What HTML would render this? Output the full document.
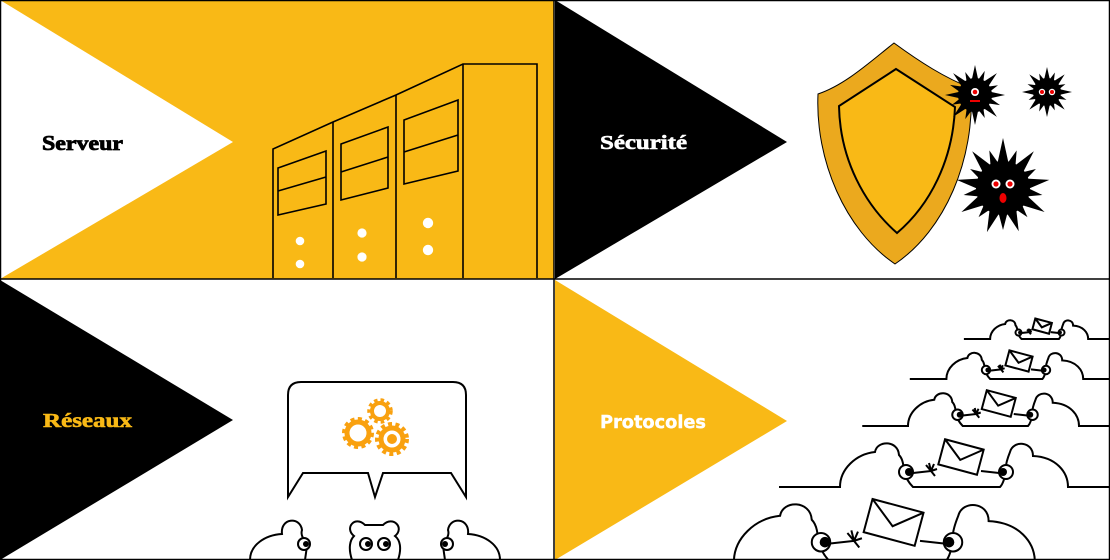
<!DOCTYPE html>
<html><head><meta charset="utf-8"><style>
html,body{margin:0;padding:0;background:#fff;}
svg{display:block;}
</style></head><body>
<svg width="1110" height="560" viewBox="0 0 1110 560" xmlns="http://www.w3.org/2000/svg">
<defs>
  <g id="cloud">
    <path d="M-177,0 L-116,0 C-116,-18 -100,-33 -81,-35 C-79,-47 -58,-47 -57,-32 C-53,-28 -52,-20 -53,-17 C-50,-8 -46,-3 -43,0 L44,0 C47,-3 49,-10 50,-17 C49,-22 52,-30 54,-35 C57,-47 77,-46 77,-31 C100,-30 112,-15 112,0 L260,0" fill="none" stroke="#000" stroke-width="2" vector-effect="non-scaling-stroke"/>
    <circle cx="-50" cy="-15" r="7" fill="#fff" stroke="#000" stroke-width="2" vector-effect="non-scaling-stroke"/>
    <circle cx="-47" cy="-15" r="4" fill="#000"/>
    <circle cx="50" cy="-15" r="7" fill="#fff" stroke="#000" stroke-width="2" vector-effect="non-scaling-stroke"/>
    <circle cx="47" cy="-15" r="4" fill="#000"/>
    <path d="M-43,-14 L-25,-16 M43,-14 L25,-16" stroke="#000" stroke-width="2" vector-effect="non-scaling-stroke"/>
    <path d="M-25,-16 l-5,-6 M-25,-16 l-2,-8 M-25,-16 l3,-7 M-25,-16 l6,-2 M-25,-16 l4,5" stroke="#000" stroke-width="2" vector-effect="non-scaling-stroke"/>
    <g transform="translate(5,-30) rotate(15)">
      <rect x="-20" y="-13" width="40" height="26" fill="#fff" stroke="#000" stroke-width="2" vector-effect="non-scaling-stroke"/>
      <path d="M-20,-13 L0,3 L20,-13" fill="none" stroke="#000" stroke-width="2" vector-effect="non-scaling-stroke"/>
    </g>
  </g>
  <polygon id="spk" points="-2.2,0 2.2,0 0,-1" />
</defs>

<!-- top-left -->
<rect x="0" y="0" width="554" height="279" fill="#F9B916"/>
<polygon points="0,0 233,142 0,279" fill="#fff"/>
<text x="42" y="150" font-family="Liberation Serif, serif" font-weight="bold" font-size="21" fill="#000" stroke="#000" stroke-width="0.8" textLength="81" lengthAdjust="spacingAndGlyphs">Serveur</text>
<g fill="none" stroke="#000" stroke-width="1.6">
  <path d="M273,278 L273,149 L333,122 L396,95 L463,64 L537,64 L537,278"/>
  <path d="M333,122 L333,278 M396,95 L396,278 M463,64 L463,278"/>
  <path d="M278,168 L326,151 L326,204 L278,215 Z M278,191 L326,177"/>
  <path d="M341,144 L388,127 L388,188 L341,200 Z M341,172 L388,157"/>
  <path d="M404,120 L458,100 L458,171 L404,184 Z M404,152 L458,135"/>
</g>
<g fill="#fff">
  <circle cx="300" cy="241" r="4.3"/><circle cx="300" cy="264" r="4.3"/>
  <circle cx="362" cy="233" r="4.6"/><circle cx="362" cy="257" r="4.6"/>
  <circle cx="428" cy="223" r="5.2"/><circle cx="428" cy="250" r="5.2"/>
</g>

<!-- top-right -->
<polygon points="555,0 787,142 555,279" fill="#000"/>
<text x="600" y="149" font-family="Liberation Serif, serif" font-weight="bold" font-size="20" fill="#fff" stroke="#fff" stroke-width="0.6" textLength="87" lengthAdjust="spacingAndGlyphs">Sécurité</text>
<path d="M894,43 C920,62 945,78 971,88 C975,160 945,230 895,264 C845,230 815,160 818,94 C845,85 870,62 894,43 Z" fill="#EBA91E" stroke="#000" stroke-width="1"/>
<path d="M896,69 L955,107 C953,160 930,205 897,233 C865,205 840,160 839,106 Z" fill="#F9B916" stroke="#000" stroke-width="2"/>
<g transform="translate(975,95)">
  <circle r="17" fill="#000"/>
  <g fill="#000">
    <use href="#spk" transform="scale(3,30)"/><use href="#spk" transform="rotate(22) scale(3,26)"/><use href="#spk" transform="rotate(45) scale(3,31)"/><use href="#spk" transform="rotate(67) scale(3,25)"/><use href="#spk" transform="rotate(90) scale(3,30)"/><use href="#spk" transform="rotate(112) scale(3,27)"/><use href="#spk" transform="rotate(135) scale(3,31)"/><use href="#spk" transform="rotate(157) scale(3,25)"/><use href="#spk" transform="rotate(180) scale(3,30)"/><use href="#spk" transform="rotate(202) scale(3,26)"/><use href="#spk" transform="rotate(225) scale(3,31)"/><use href="#spk" transform="rotate(247) scale(3,25)"/><use href="#spk" transform="rotate(270) scale(3,30)"/><use href="#spk" transform="rotate(292) scale(3,27)"/><use href="#spk" transform="rotate(315) scale(3,31)"/><use href="#spk" transform="rotate(337) scale(3,25)"/>
  </g>
  <circle cx="0" cy="-3" r="4" fill="#fff"/><circle cx="0" cy="-3" r="2.3" fill="#e00"/>
  <rect x="-5" y="5" width="10" height="2" fill="#e00"/>
</g>
<g transform="translate(1047,92)">
  <circle r="14" fill="#000"/>
  <g fill="#000">
    <use href="#spk" transform="scale(2.6,25)"/><use href="#spk" transform="rotate(22) scale(2.6,21)"/><use href="#spk" transform="rotate(45) scale(2.6,25)"/><use href="#spk" transform="rotate(67) scale(2.6,20)"/><use href="#spk" transform="rotate(90) scale(2.6,25)"/><use href="#spk" transform="rotate(112) scale(2.6,21)"/><use href="#spk" transform="rotate(135) scale(2.6,25)"/><use href="#spk" transform="rotate(157) scale(2.6,20)"/><use href="#spk" transform="rotate(180) scale(2.6,25)"/><use href="#spk" transform="rotate(202) scale(2.6,21)"/><use href="#spk" transform="rotate(225) scale(2.6,25)"/><use href="#spk" transform="rotate(247) scale(2.6,20)"/><use href="#spk" transform="rotate(270) scale(2.6,25)"/><use href="#spk" transform="rotate(292) scale(2.6,21)"/><use href="#spk" transform="rotate(315) scale(2.6,25)"/><use href="#spk" transform="rotate(337) scale(2.6,20)"/>
  </g>
  <circle cx="-5" cy="0" r="3.2" fill="#fff"/><circle cx="-5" cy="0" r="2" fill="#e00"/>
  <circle cx="5" cy="0" r="3.2" fill="#fff"/><circle cx="5" cy="0" r="2" fill="#e00"/>
</g>
<g transform="translate(1003,188)">
  <circle r="27" fill="#000"/>
  <g fill="#000">
    <use href="#spk" transform="scale(5,50)"/><use href="#spk" transform="rotate(20) scale(5,40)"/><use href="#spk" transform="rotate(40) scale(5,48)"/><use href="#spk" transform="rotate(60) scale(5,38)"/><use href="#spk" transform="rotate(80) scale(5,47)"/><use href="#spk" transform="rotate(100) scale(5,40)"/><use href="#spk" transform="rotate(120) scale(5,48)"/><use href="#spk" transform="rotate(140) scale(5,38)"/><use href="#spk" transform="rotate(160) scale(5,46)"/><use href="#spk" transform="rotate(180) scale(5,42)"/><use href="#spk" transform="rotate(200) scale(5,47)"/><use href="#spk" transform="rotate(220) scale(5,38)"/><use href="#spk" transform="rotate(240) scale(5,48)"/><use href="#spk" transform="rotate(260) scale(5,40)"/><use href="#spk" transform="rotate(280) scale(5,47)"/><use href="#spk" transform="rotate(300) scale(5,38)"/><use href="#spk" transform="rotate(320) scale(5,48)"/><use href="#spk" transform="rotate(340) scale(5,40)"/>
  </g>
  <circle cx="-7" cy="-4" r="4.5" fill="#fff"/><circle cx="-7" cy="-4" r="2.6" fill="#e00"/>
  <circle cx="7" cy="-4" r="4.5" fill="#fff"/><circle cx="7" cy="-4" r="2.6" fill="#e00"/>
  <ellipse cx="0" cy="10" rx="3.5" ry="5" fill="#e00"/>
</g>

<!-- bottom-left -->
<polygon points="0,280 233,420 0,560" fill="#000"/>
<text x="43" y="427" font-family="Liberation Serif, serif" font-weight="bold" font-size="20" fill="#F9B916" stroke="#F9B916" stroke-width="0.6" textLength="89" lengthAdjust="spacingAndGlyphs">Réseaux</text>
<path d="M288,497 L288,395 Q288,382 301,382 L453,382 Q466,382 466,395 L466,497 L451,473 L383,473 L375,497 L368,473 L303,473 Z" fill="#fff" stroke="#000" stroke-width="2"/>
<g fill="none" stroke="#F9A10F">
  <circle cx="358" cy="433" r="11" stroke-width="5"/>
  <circle cx="358" cy="433" r="14" stroke-width="4" stroke-dasharray="4 3.3"/>
  <circle cx="380" cy="411" r="8" stroke-width="4"/>
  <circle cx="380" cy="411" r="11" stroke-width="3.5" stroke-dasharray="3.5 3"/>
  <circle cx="392" cy="439" r="11" stroke-width="5"/>
  <circle cx="392" cy="439" r="15" stroke-width="4" stroke-dasharray="4 3.4"/>
</g>
<circle cx="392" cy="439" r="5" fill="#F9A10F"/>
<g fill="#fff" stroke="#000" stroke-width="2">
  <path d="M250,560 C250,545 265,535 282,534 C280,518 300,516 302,530 C300,536 305,540 307,546 L305,560"/>
  <circle cx="304" cy="544" r="6"/>
  <path d="M352,560 C348,548 350,540 354,536 C344,528 355,515 365,525 L383,525 C393,515 405,528 395,536 C400,540 402,548 398,560"/>
  <circle cx="366" cy="544" r="6"/><circle cx="384" cy="544" r="6"/>
  <path d="M500,560 C500,545 485,535 468,534 C470,518 450,516 448,530 C450,536 445,540 443,546 L445,560"/>
  <circle cx="447" cy="544" r="6"/>
</g>
<g fill="#000"><circle cx="306" cy="544" r="3"/><circle cx="368" cy="544" r="3"/><circle cx="386" cy="544" r="3"/><circle cx="445" cy="544" r="3"/></g>

<!-- bottom-right -->
<polygon points="555,280 787,421 555,560" fill="#F9B916"/>
<text x="600" y="428" font-family="DejaVu Sans, sans-serif" font-weight="bold" font-size="18" fill="#fff" stroke="#fff" stroke-width="0.4" textLength="106" lengthAdjust="spacingAndGlyphs">Protocoles</text>
<svg x="555" y="280" width="555" height="280" viewBox="555 280 555 280" overflow="hidden">
  <use href="#cloud" transform="translate(1040,339) scale(0.43)"/>
  <use href="#cloud" transform="translate(1016,379) scale(0.6)"/>
  <use href="#cloud" transform="translate(995,426) scale(0.75)"/>
  <use href="#cloud" transform="translate(956,487) scale(1)"/>
  <use href="#cloud" transform="translate(887,562) scale(1.32)"/>
</svg>

<!-- borders -->
<rect x="0.5" y="0.5" width="1109" height="559" fill="none" stroke="#000" stroke-width="1.5"/>
<line x1="554" y1="0" x2="554" y2="560" stroke="#000" stroke-width="1.5"/>
<line x1="0" y1="279" x2="1110" y2="279" stroke="#000" stroke-width="1.5"/>
</svg>
</body></html>
